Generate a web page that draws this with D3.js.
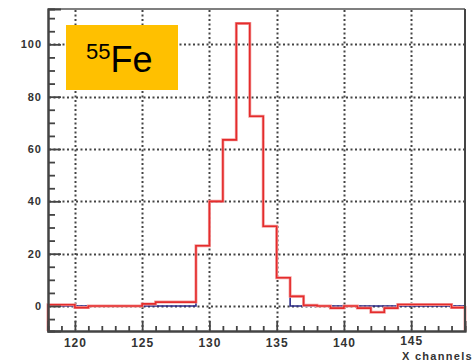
<!DOCTYPE html>
<html><head><meta charset="utf-8">
<script src="https://cdn.jsdelivr.net/npm/d3@7"></script>
<style>body{margin:0;background:#fff;} svg{display:block;}</style>
</head><body>
<svg id="c" width="475" height="361"></svg>
<script>
const binStarts = [118,119,120,121,122,123,124,125,126,127,128,129,130,131,132,133,134,135,136,137,138,139,140,141,142,143,144,145,146,147,148];
const redCounts = [0.5,0.5,-0.6,0,0,0,0,0.8,1.5,1.5,1.5,23,40,63.5,108,72.5,30.5,10.8,3.7,0.3,0,-0.8,0,-0.8,-2.4,-0.8,0.6,0.6,0.6,0.6,-0.6];
const blueCounts = [0,0,0,0,0,0,0,0,0,0,0,23,40,63.5,108,72.5,30.5,10.8,0,0,0,0,0,0,0,0,0,0,0,0,0];
const xTicks = [120,125,130,135,140,145];
const yTicks = [0,20,40,60,80,100];
const xTitle = "X channels";

const svg = d3.select("#c");
const x = d3.scaleLinear().domain([118,149]).range([48,465]);
const y = d3.scaleLinear().domain([-9.55,113.5]).range([331,9]);

// dotted grid
const grid = svg.append("g");
grid.selectAll("line.gv").data(xTicks).enter().append("line").attr("class","gv")
  .attr("x1",d=>Math.round(x(d))+0.5).attr("x2",d=>Math.round(x(d))+0.5).attr("y1",10).attr("y2",330);
grid.selectAll("line.gh").data(yTicks).enter().append("line").attr("class","gh")
  .attr("y1",d=>Math.round(y(d))+0.5).attr("y2",d=>Math.round(y(d))+0.5).attr("x1",49).attr("x2",464);
grid.selectAll("line").attr("stroke","#444").attr("stroke-width",2).attr("stroke-dasharray","2,2.5");

function histPath(vals){
  const ymin = y.domain()[0];
  let pts = [[binStarts[0], ymin]];
  vals.forEach((v,i)=>{ pts.push([binStarts[i], v]); pts.push([binStarts[i]+1, v]); });
  pts.push([binStarts[binStarts.length-1]+1, ymin]);
  return d3.line().x(d=>x(d[0])).y(d=>y(d[1]))(pts);
}
svg.append("path").attr("d",histPath(blueCounts)).attr("fill","none").attr("stroke","#2b2b88").attr("stroke-width",1.6);
svg.append("path").attr("d",histPath(redCounts)).attr("fill","none").attr("stroke","#f4a0a0").attr("stroke-width",3);
svg.append("path").attr("d",histPath(redCounts)).attr("fill","none").attr("stroke","#e42c2c").attr("stroke-width",1.6);

// frame
svg.append("line").attr("x1",48).attr("x2",465).attr("y1",9).attr("y2",9).attr("stroke","#555").attr("stroke-width",1.5);
svg.append("line").attr("x1",465).attr("x2",465).attr("y1",9).attr("y2",331).attr("stroke","#444").attr("stroke-width",2);

// axes
const ax = svg.append("g").attr("transform","translate(48,0)");
ax.call(d3.axisLeft(y).tickValues(yTicks).tickSize(-13).tickPadding(6).tickFormat(d3.format("d")));
const axm = svg.append("g").attr("transform","translate(48,0)");
axm.call(d3.axisLeft(y).tickValues(d3.range(-5,115,5).filter(v=>v%20!==0)).tickSize(-7).tickFormat(""));
const bx = svg.append("g").attr("transform","translate(0,331)");
bx.call(d3.axisBottom(x).tickValues(xTicks).tickSize(-10).tickPadding(7).tickFormat(d3.format("d")));
const bxm = svg.append("g").attr("transform","translate(0,331)");
bxm.call(d3.axisBottom(x).tickValues(d3.range(119,149,1).filter(v=>v%5!==0)).tickSize(-5).tickFormat(""));
[ax,axm,bx,bxm].forEach(g=>{
  g.selectAll(".domain").attr("stroke","#444").attr("stroke-width",2);
  g.selectAll(".tick line").attr("stroke","#444").attr("stroke-width",1.8);
});
ax.selectAll("text").attr("font-family","Liberation Sans, Arial, sans-serif").attr("font-weight","bold").attr("font-size",11).attr("letter-spacing","1px").attr("fill","#333");
bx.selectAll("text").attr("font-family","Liberation Sans, Arial, sans-serif").attr("font-weight","bold").attr("font-size",12).attr("letter-spacing","1px").attr("fill","#333");
bx.selectAll(".tick").filter(d=>d===145).select("text").attr("y",5);

svg.append("text").attr("x",473).attr("y",360).attr("text-anchor","end")
  .attr("font-family","Liberation Sans, Arial, sans-serif").attr("font-weight","bold").attr("font-size",11)
  .attr("letter-spacing","1.3px").attr("fill","#333").text(xTitle);

// label box
svg.append("rect").attr("x",66).attr("y",25).attr("width",112).attr("height",65).attr("fill","#FFC000");
const t = svg.append("text").attr("x",86).attr("y",72).attr("font-family","Liberation Sans, Arial, sans-serif").attr("fill","#000");
t.append("tspan").attr("font-size",22).attr("dy",-13).text("55");
t.append("tspan").attr("font-size",36).attr("dy",13).text("Fe");
</script>
</body></html>
